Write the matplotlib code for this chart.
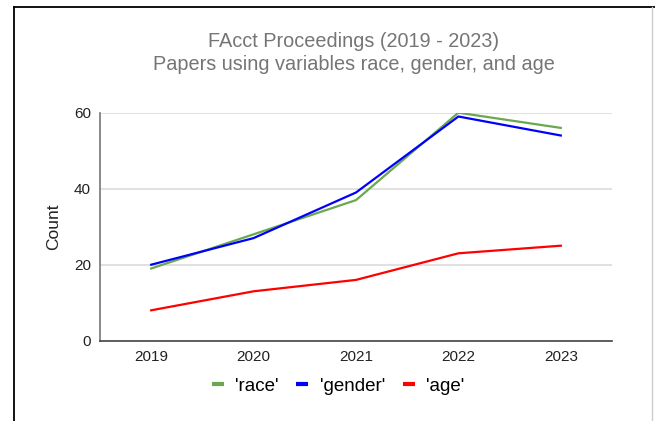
import matplotlib
matplotlib.use("Agg")
import matplotlib.pyplot as plt
from matplotlib.lines import Line2D

plt.rcParams["font.family"] = ["Liberation Sans", "DejaVu Sans"]

years = ["2019", "2020", "2021", "2022", "2023"]
race = [19, 28, 37, 60, 56]
gender = [20, 27, 39, 59, 54]
age = [8, 13, 16, 23, 25]
series_labels = ["'race'", "'gender'", "'age'"]
series_colors = ["#6aa84f", "#0000ff", "#ff0000"]
y_ticks = [0, 20, 40, 60]

W, H = 655, 421
fig = plt.figure(figsize=(W / 100, H / 100), dpi=100)
ax = fig.add_axes([100 / W, 1 - 340.7 / H, 512 / W, 228 / H])

x = range(len(years))
for vals, lab, col in zip([race, gender, age], series_labels, series_colors):
    ax.plot(x, vals, color=col, lw=1.6, label=lab, solid_joinstyle="round")

ax.set_xlim(-0.5, len(years) - 0.5)
ax.set_ylim(0, 60)
ax.set_xticks(list(x))
ax.set_xticklabels(years)
ax.set_yticks(y_ticks)
ax.grid(axis="y", color="#d9d9d9", lw=1.1)
ax.set_axisbelow(True)
ax.tick_params(length=0, labelsize=11, colors="#222222")
ax.tick_params(axis="y", pad=6.5)
ax.tick_params(axis="x", pad=7)
for s in ("top", "right"):
    ax.spines[s].set_visible(False)
ax.spines["left"].set_color("#777777")
ax.spines["left"].set_linewidth(1.2)
ax.spines["bottom"].set_color("#444444")
ax.spines["bottom"].set_linewidth(1.2)
ax.set_ylabel("Count", fontsize=12.5, color="#222222", labelpad=9)

# two-line title, centred over the plot area
fig.text(354 / W, 1 - 47 / H, "FAcct Proceedings (2019 - 2023)",
         ha="center", va="baseline", fontsize=14.3, color="#757575")
fig.text(354 / W, 1 - 70 / H, "Papers using variables race, gender, and age",
         ha="center", va="baseline", fontsize=14.3, color="#757575")

fig.legend(loc="center", bbox_to_anchor=(338 / W, 1 - 386 / H), ncol=3,
           frameon=False, fontsize=13.5, handlelength=0.65, handletextpad=0.6,
           columnspacing=0.95, borderaxespad=0)
for h in fig.legends[0].legend_handles:
    h.set_linewidth(3.0)
    h.set_solid_capstyle("butt")

# outer frame of the screenshot
fig.add_artist(Line2D([14 / W, 14 / W], [0, 1 - 7 / H], color="black", lw=1.3))
fig.add_artist(Line2D([14 / W, 1], [1 - 7 / H, 1 - 7 / H], color="black", lw=1.3))
fig.add_artist(Line2D([652 / W, 652 / W], [0, 1 - 7 / H], color="#cccccc", lw=1.0))

fig.savefig("out.png", dpi=100)
